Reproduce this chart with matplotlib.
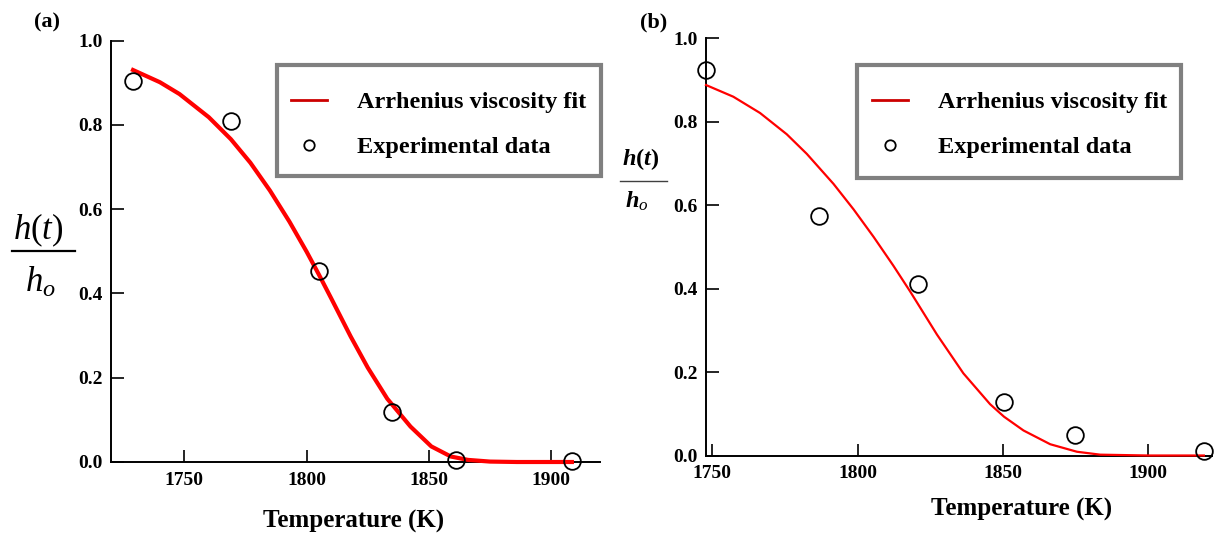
import matplotlib
matplotlib.use("Agg")
import matplotlib.pyplot as plt
from matplotlib.lines import Line2D
from matplotlib.patches import Rectangle
from matplotlib.ticker import FormatStrFormatter

plt.rcParams["font.family"] = ["Liberation Serif", "DejaVu Serif"]
plt.rcParams["font.weight"] = "bold"
plt.rcParams["mathtext.fontset"] = "custom"
plt.rcParams["mathtext.rm"] = "Liberation Serif:weight=normal"
plt.rcParams["mathtext.it"] = "Liberation Serif:style=italic:weight=normal"
plt.rcParams["mathtext.bf"] = "Liberation Serif:weight=bold"
plt.rcParams["mathtext.bfit"] = "Liberation Serif:style=italic:weight=bold"

# ---- panel (a) ----
temp_exp_a = [1729, 1769, 1805, 1835, 1861, 1908.5]
ratio_exp_a = [0.904, 0.808, 0.454, 0.118, 0.004, 0.003]
temp_fit_a = [1729, 1740, 1748, 1760, 1769, 1777, 1785, 1793, 1800, 1805,
              1810, 1818, 1825, 1833, 1842.5, 1851, 1859, 1866, 1875, 1886, 1908.5]
ratio_fit_a = [0.930, 0.901, 0.873, 0.818, 0.766, 0.710, 0.644, 0.570, 0.499, 0.445,
               0.389, 0.298, 0.224, 0.150, 0.084, 0.037, 0.013, 0.005, 0.001, 0.0, 0.0]

# ---- panel (b) ----
temp_exp_b = [1747.8, 1786.6, 1820.7, 1850.4, 1874.9, 1919.2]
ratio_exp_b = [0.923, 0.575, 0.412, 0.129, 0.049, 0.011]
temp_fit_b = [1747.8, 1757.2, 1766.4, 1775.6, 1782.5, 1791.7, 1798.6, 1805.5, 1812.3,
              1818.1, 1827.3, 1836.4, 1845.6, 1850.4, 1857.1, 1866.3, 1875.5, 1883.5,
              1900, 1919.2]
ratio_fit_b = [0.888, 0.860, 0.821, 0.770, 0.723, 0.651, 0.590, 0.524, 0.455,
               0.393, 0.290, 0.197, 0.123, 0.093, 0.060, 0.027, 0.009, 0.002,
               0.0, 0.0]

x_ticks = [1750, 1800, 1850, 1900]
y_ticks = [0.0, 0.2, 0.4, 0.6, 0.8, 1.0]
fit_label = "Arrhenius viscosity fit"
exp_label = "Experimental data"
x_label = "Temperature (K)"
y_num_a = r"$h(t)$"
y_den_a = r"$h_o$"
y_num_b = r"$\mathbfit{h}\mathbf{(}\mathbfit{t}\mathbf{)}$"
y_den_b = r"$\mathbfit{h}_o$"

W, H = 1216, 544
fig = plt.figure(figsize=(W / 100, H / 100), dpi=100)


def fx(px):
    return px / W


def fy(py):
    return 1 - py / H


def px_box(left, top, right, bottom):
    return [left / W, 1 - bottom / H, (right - left) / W, (bottom - top) / H]


def style_axes(ax, xlim):
    ax.set_xlim(*xlim)
    ax.set_ylim(0, 1)
    for side in ("top", "right"):
        ax.spines[side].set_visible(False)
    for side in ("left", "bottom"):
        ax.spines[side].set_linewidth(1.4)
        ax.spines[side].set_color("black")
    ax.set_xticks(x_ticks)
    ax.set_yticks(y_ticks)
    ax.yaxis.set_major_formatter(FormatStrFormatter("%.1f"))
    ax.tick_params(axis="both", direction="in", length=9, width=1.2,
                   labelsize=14, colors="black")
    ax.tick_params(axis="y", pad=6)
    ax.tick_params(axis="x", pad=7)
    for lbl in ax.get_xticklabels() + ax.get_yticklabels():
        lbl.set_fontweight("bold")


def add_legend(frame_px, content_left, content_top):
    left, top, right, bottom = frame_px
    fig.patches.append(Rectangle((fx(left), fy(bottom)), fx(right - left),
                                 (bottom - top) / H, transform=fig.transFigure,
                                 facecolor="white", edgecolor="#808080",
                                 linewidth=3, zorder=5))
    handles = [
        Line2D([], [], color="#cc0000", lw=2),
        Line2D([], [], ls="none", marker="o", ms=7.5, mfc="white",
               mec="black", mew=1.3),
    ]
    leg = fig.legend(handles, [fit_label, exp_label], loc="upper left",
                     bbox_to_anchor=(fx(content_left), fy(content_top)),
                     bbox_transform=fig.transFigure, borderaxespad=0,
                     frameon=False, borderpad=0,
                     handlelength=1.5, handletextpad=1.2, labelspacing=0.95,
                     prop={"family": "Liberation Serif", "weight": "bold",
                           "size": 17.5})
    leg.set_zorder(6)
    return leg


# panel (a)
ax_a = fig.add_axes(px_box(111, 40.5, 600, 462))
style_axes(ax_a, (1720, 1920))
ax_a.plot(temp_fit_a, ratio_fit_a, color="#ff0000", lw=3, zorder=3,
          solid_joinstyle="round", clip_on=False)
ax_a.plot(temp_exp_a, ratio_exp_a, ls="none", marker="o", ms=12,
          mfc="none", mec="black", mew=1.3, zorder=4, clip_on=False)
add_legend((277, 65, 601, 176), 291, 91)

# panel (b)
ax_b = fig.add_axes(px_box(706, 38.3, 1212, 455.5))
style_axes(ax_b, (1747.8, 1922))
ax_b.plot(temp_fit_b, ratio_fit_b, color="#ff0000", lw=1.6, zorder=3,
          solid_joinstyle="round", clip_on=False)
ax_b.plot(temp_exp_b, ratio_exp_b, ls="none", marker="o", ms=12,
          mfc="none", mec="black", mew=1.3, zorder=4, clip_on=False)
add_legend((857, 65, 1181, 178), 872, 91)

# axis titles
fig.text(fx(354), fy(521), x_label, ha="center", va="center",
         fontsize=18, fontweight="bold")
fig.text(fx(1022), fy(509), x_label, ha="center", va="center",
         fontsize=18, fontweight="bold")

# fraction-style y-axis titles: numerator, bar, denominator
fig.text(fx(38), fy(230), y_num_a, ha="center", va="center", fontsize=25)
fig.lines.append(Line2D([fx(12), fx(75)], [fy(251), fy(251)],
                        transform=fig.transFigure, color="black", lw=1.6))
fig.text(fx(40), fy(283), y_den_a, ha="center", va="center", fontsize=25)

fig.text(fx(641), fy(159), y_num_b, ha="center", va="center", fontsize=17.5)
fig.lines.append(Line2D([fx(620), fx(667)], [fy(181), fy(181)],
                        transform=fig.transFigure, color="#404040", lw=1.0))
fig.text(fx(637), fy(201), y_den_b, ha="center", va="center", fontsize=17.5)

# panel tags
fig.text(fx(47), fy(22), "(a)", ha="center", va="center",
         fontsize=16, fontweight="bold")
fig.text(fx(654), fy(22), "(b)", ha="center", va="center",
         fontsize=16, fontweight="bold")

fig.savefig("out.png", dpi=100, facecolor="white")
